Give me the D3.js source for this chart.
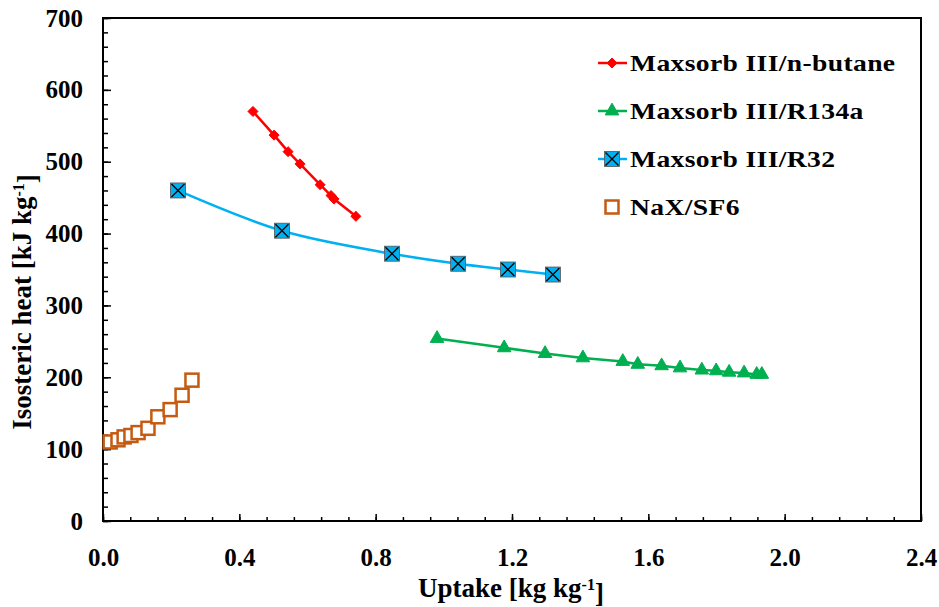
<!DOCTYPE html>
<meta charset="utf-8">
<style>
body { margin: 0; background: #fff; }
svg text { font-family: "Liberation Serif", "Times New Roman", serif; font-weight: bold; fill: #000; }
.axis path { display: none; }
.axis line { stroke: #000; stroke-width: 1.5px; }
.axis text { font-size: 25px; }
.legend text { font-size: 23px; }
</style>
<svg class="chart" width="939" height="607"></svg>
<script src="https://cdn.jsdelivr.net/npm/d3@7"></script>
<script>

// Maxsorb III/n-butane
let butaneX = [0.440, 0.502, 0.543, 0.578, 0.637, 0.669, 0.678, 0.742];
let butaneY = [570, 537, 514, 497, 468, 453, 448, 424];

// Maxsorb III/R134a
let r134aX = [0.980, 1.177, 1.297, 1.408, 1.525, 1.569, 1.639, 1.693, 1.757, 1.799, 1.837, 1.881, 1.918, 1.933];
let r134aY = [254, 241, 233, 227, 222, 218, 216, 213, 210, 209, 207, 206, 204, 204];

// Maxsorb III/R32
let r32X = [0.220, 0.525, 0.848, 1.042, 1.188, 1.320];
let r32Y = [460, 404, 372, 358, 350, 343];

// NaX/SF6
let sf6X = [0.021, 0.044, 0.062, 0.082, 0.103, 0.132, 0.161, 0.197, 0.232, 0.261];
let sf6Y = [110, 113, 117, 119, 123, 129, 145, 155, 175, 196];

let seriesNames = ["Maxsorb III/n-butane", "Maxsorb III/R134a", "Maxsorb III/R32", "NaX/SF6"];
let xTicks = [0, 0.4, 0.8, 1.2, 1.6, 2.0, 2.4];
let yTicks = [0, 100, 200, 300, 400, 500, 600, 700];

let series = [
  { name: seriesNames[0], xs: butaneX, ys: butaneY, color: "#ff0000", marker: "diamond", line: true, curve: d3.curveLinear },
  { name: seriesNames[1], xs: r134aX, ys: r134aY, color: "#00b050", marker: "triangle", line: true, curve: d3.curveLinear },
  { name: seriesNames[2], xs: r32X, ys: r32Y, color: "#00b0f0", marker: "xsquare", line: true, curve: d3.curveCatmullRom },
  { name: seriesNames[3], xs: sf6X, ys: sf6Y, color: "#c55a11", marker: "square", line: false }
];

let plotL = 103, plotR = 921, plotT = 18, plotB = 521;

let x = d3.scaleLinear().domain([0, 2.4]).range([plotL, plotR]);
let y = d3.scaleLinear().domain([0, 700]).range([plotB, plotT]);

let svg = d3.select(".chart");

// minor ticks
svg.append("g").attr("class", "axis")
    .attr("transform", "translate(0," + plotB + ")")
    .call(d3.axisBottom(x).tickValues(d3.range(0, 2.4001, 0.08)).tickSize(-4).tickFormat(""));
svg.append("g").attr("class", "axis")
    .attr("transform", "translate(" + plotL + ",0)")
    .call(d3.axisLeft(y).tickValues(d3.range(0, 700.1, 20)).tickSize(-5).tickFormat(""));

// major ticks + labels
svg.append("g").attr("class", "axis")
    .attr("transform", "translate(0," + plotB + ")")
    .call(d3.axisBottom(x).tickValues(xTicks).tickSize(-7).tickPadding(27).tickFormat(d3.format(".1f")));
svg.append("g").attr("class", "axis")
    .attr("transform", "translate(" + plotL + ",0)")
    .call(d3.axisLeft(y).tickValues(yTicks).tickSize(-8).tickPadding(20).tickFormat(d3.format("d")));

// frame
svg.append("rect")
    .attr("x", plotL).attr("y", plotT)
    .attr("width", plotR - plotL).attr("height", plotB - plotT)
    .attr("fill", "none").attr("stroke", "#000").attr("stroke-width", 2);

function drawMarker(g, kind, color) {
  if (kind === "diamond") {
    g.append("path").attr("d", d3.symbol(d3.symbolDiamond2, 64)())
      .attr("fill", color).attr("stroke", color).attr("stroke-width", 1);
  } else if (kind === "triangle") {
    g.append("path").attr("d", d3.symbol(d3.symbolTriangle, 80)())
      .attr("fill", color).attr("stroke", color).attr("stroke-width", 1);
  } else if (kind === "xsquare") {
    g.append("rect").attr("x", -7.5).attr("y", -7.5).attr("width", 15).attr("height", 15)
      .attr("fill", color).attr("stroke", "#555").attr("stroke-width", 0.8);
    g.append("path").attr("d", "M-6.5,-6.5L6.5,6.5M-6.5,6.5L6.5,-6.5")
      .attr("stroke", "#000").attr("stroke-width", 1.3);
  } else {
    g.append("rect").attr("x", -6.5).attr("y", -6.5).attr("width", 13).attr("height", 13)
      .attr("fill", "#fff").attr("stroke", color).attr("stroke-width", 2.5);
  }
}

series.forEach(s => {
  let pts = s.xs.map((v, i) => [v, s.ys[i]]);
  if (s.line) {
    svg.append("path")
        .datum(pts)
        .attr("fill", "none")
        .attr("stroke", s.color)
        .attr("stroke-width", 2.5)
        .attr("d", d3.line().x(d => x(d[0])).y(d => y(d[1])).curve(s.curve));
  }
  svg.append("g").selectAll("g")
      .data(pts)
    .enter().append("g")
      .attr("transform", d => "translate(" + x(d[0]) + "," + y(d[1]) + ")")
      .each(function() { drawMarker(d3.select(this), s.marker, s.color); });
});

// legend
let legend = svg.append("g").attr("class", "legend");
series.forEach((s, i) => {
  let row = legend.append("g").attr("transform", "translate(612," + (63 + i * 48) + ")");
  if (s.line) {
    row.append("line").attr("x1", -14).attr("x2", 15)
      .attr("stroke", s.color).attr("stroke-width", 2.5);
  }
  drawMarker(row, s.marker, s.color);
  row.append("text")
      .attr("transform", "translate(18,0) scale(1.2,1)")
      .attr("dy", "0.35em")
      .style("letter-spacing", "0.3px")
      .text(s.name);
});

// axis titles
let xt = svg.append("text")
    .attr("x", 511).attr("y", 597)
    .attr("text-anchor", "middle")
    .style("font-size", "27px");
xt.append("tspan").text("Uptake [kg kg");
xt.append("tspan").attr("dy", "-0.45em").style("font-size", "16px").text("-1");
xt.append("tspan").attr("dy", "0.45em").text("]");

let yt = svg.append("text")
    .attr("transform", "translate(31,302) rotate(-90)")
    .attr("text-anchor", "middle")
    .style("font-size", "27px");
yt.append("tspan").text("Isosteric heat [kJ kg");
yt.append("tspan").attr("dy", "-0.45em").style("font-size", "16px").text("-1");
yt.append("tspan").attr("dy", "0.45em").text("]");

</script>
